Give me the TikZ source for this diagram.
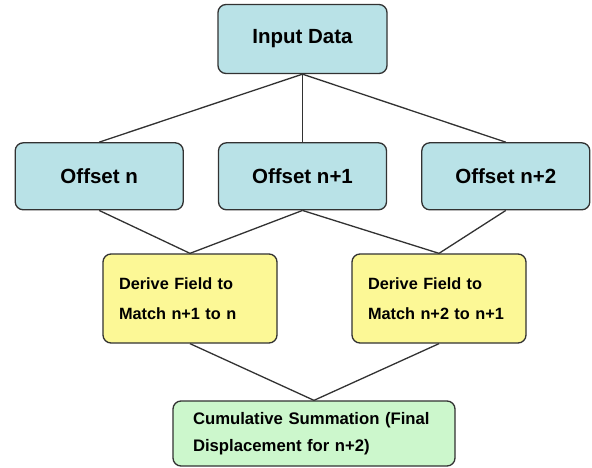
\documentclass[tikz,border=0pt]{standalone}
\usepackage{fontspec}
\setmainfont{Liberation Sans}
\usetikzlibrary{positioning}
\definecolor{boxblue}{RGB}{185,226,231}
\definecolor{boxyellow}{RGB}{252,248,150}
\definecolor{boxgreen}{RGB}{204,247,204}
\definecolor{edgegray}{RGB}{50,50,50}
\begin{document}
\begin{tikzpicture}[x=1pt, y=1pt,
        b/.style={draw=edgegray, line width=1.3pt, rounded corners=8pt, inner sep=0pt},
        n/.style={b, fill=boxblue, minimum width=169pt, minimum height=67pt,
          font=\fontsize{20.5}{24}\selectfont\bfseries},
        d/.style={b, fill=boxyellow, minimum width=174pt, minimum height=89pt, inner xsep=16pt,
          text width=142pt, align=left, font=\fontsize{16.3}{30}\selectfont\bfseries},
        s/.style={b, fill=boxgreen, minimum width=282pt, minimum height=65pt, inner xsep=20pt,
          text width=242pt, align=left, font=\fontsize{16.7}{27}\selectfont\bfseries},
        e/.style={draw=edgegray, line width=1.3pt}]
        \useasboundingbox (0,0) rectangle (592,467);
        \fill[white] (0,0) rectangle (592,467);

        \node[n, minimum height=69pt] (in) at (302.5,428) {Input Data};
        \node[n, minimum width=168pt, below=68pt of in] (o2) {Offset n+1};
        \node[n, minimum width=168pt, left=34pt of o2] (o1) {Offset n};
        \node[n, minimum width=168pt, right=34pt of o2] (o3) {Offset n+2};

        \node[d] (d1) at (190,168.5) {Derive Field to\\Match n+1 to n};
        \node[d] (d2) at (439,168.5) {Derive Field to\\Match n+2 to n+1};

        \node[s] (sum) at (314,33.5) {Cumulative Summation (Final\\Displacement for n+2)};

        \foreach \a/\b in {in/o1, in/o2, in/o3, o1/d1, o2/d1, o2/d2, o3/d2, d1/sum, d2/sum}
        \draw[e] (\a.south) -- (\b.north);
      \end{tikzpicture}
\end{document}
